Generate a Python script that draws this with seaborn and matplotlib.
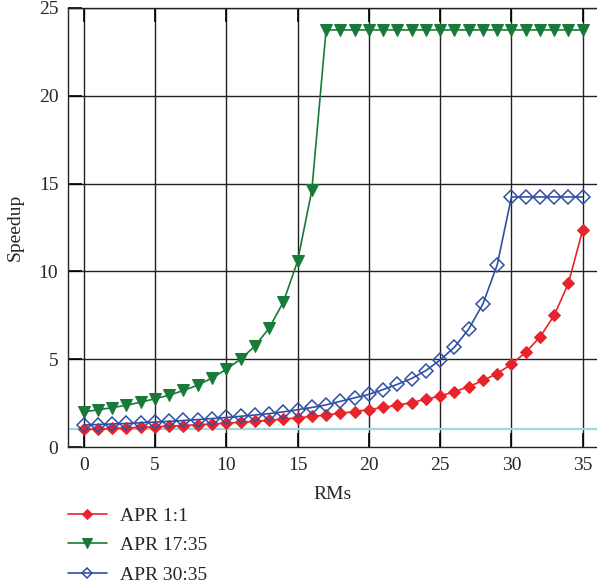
import numpy as np
import pandas as pd
import seaborn as sns
import matplotlib
matplotlib.use("Agg")
import matplotlib.pyplot as plt

rms = list(range(36))

apr_1_1 = [1.00, 1.03, 1.06, 1.09, 1.12, 1.15, 1.19, 1.22, 1.27, 1.31,
           1.36, 1.41, 1.46, 1.52, 1.59, 1.66, 1.74, 1.82, 1.92, 2.02,
           2.13, 2.25, 2.38, 2.53, 2.72, 2.90, 3.15, 3.43, 3.79, 4.18,
           4.72, 5.39, 6.26, 7.50, 9.34, 12.37]

apr_17_35 = [2.00, 2.12, 2.24, 2.38, 2.55, 2.75, 2.95, 3.22, 3.52, 3.93,
             4.42, 5.00, 5.74, 6.76, 8.25, 10.58, 14.62, 23.75, 23.75, 23.75,
             23.75, 23.75, 23.75, 23.75, 23.75, 23.75, 23.75, 23.75, 23.75, 23.75,
             23.75, 23.75, 23.75, 23.75, 23.75, 23.75]

apr_30_35 = [1.25, 1.28, 1.31, 1.34, 1.38, 1.42, 1.46, 1.51, 1.56, 1.62,
             1.68, 1.75, 1.82, 1.90, 2.00, 2.12, 2.25, 2.40, 2.60, 2.80,
             3.00, 3.27, 3.57, 3.90, 4.35, 4.96, 5.68, 6.71, 8.15, 10.37,
             14.24, 14.24, 14.24, 14.24, 14.24, 14.24]

series_names = ["APR 1:1", "APR 17:35", "APR 30:35"]
baseline = 1.0
x_ticks = [0, 5, 10, 15, 20, 25, 30, 35]
y_ticks = [0, 5, 10, 15, 20, 25]

df = pd.DataFrame({
    "RMs": rms * 3,
    "Speedup": apr_1_1 + apr_17_35 + apr_30_35,
    "series": [series_names[0]] * 36 + [series_names[1]] * 36 + [series_names[2]] * 36,
})

sns.set_style("white")
plt.rcParams["font.family"] = ["Liberation Serif", "DejaVu Serif"]
plt.rcParams["font.size"] = 14

fig = plt.figure(figsize=(5.97, 5.86), dpi=100)
ax = fig.add_axes([68 / 597, 1 - 447 / 586, 1 - 68 / 597, (447 - 8) / 586])

colors = {"APR 1:1": "#E8232A", "APR 17:35": "#187A38", "APR 30:35": "#2F4FA6"}

# grid
for xv in x_ticks:
    ax.axvline(xv, color="#222222", lw=1.0, zorder=0)
for yv in y_ticks[1:]:
    ax.axhline(yv, color="#222222", lw=1.0, zorder=0)
ax.axhline(baseline, color="#9ED9E2", lw=1.6, zorder=1)

sub = df[df.series == "APR 1:1"]
sns.lineplot(data=sub, x="RMs", y="Speedup", ax=ax, color=colors["APR 1:1"],
             marker="D", markersize=6.5, markeredgecolor=colors["APR 1:1"],
             lw=1.2, label="APR 1:1", zorder=3)
sub = df[df.series == "APR 17:35"]
sns.lineplot(data=sub, x="RMs", y="Speedup", ax=ax, color=colors["APR 17:35"],
             marker="v", markersize=8.5, markeredgecolor=colors["APR 17:35"],
             lw=1.2, label="APR 17:35", zorder=3)
sub = df[df.series == "APR 30:35"]
sns.lineplot(data=sub, x="RMs", y="Speedup", ax=ax, color=colors["APR 30:35"],
             marker="D", markersize=7, markerfacecolor="none",
             markeredgecolor=colors["APR 30:35"], markeredgewidth=1.1,
             lw=1.2, label="APR 30:35", zorder=4)

ax.set_xlim(-1.1, 36.0)
ax.set_ylim(0, 25)
ax.set_xticks(x_ticks)
ax.set_yticks(y_ticks)
ax.tick_params(direction="in", length=10, width=1.2, color="black",
               top=True, bottom=True, left=True, right=False,
               labelsize=14, pad=7)
for s in ["left", "top", "bottom"]:
    ax.spines[s].set_color("#222222")
    ax.spines[s].set_linewidth(1.0)
ax.spines["right"].set_visible(False)

ax.set_xlabel("RMs", fontsize=14, labelpad=9)
ax.set_ylabel("Speedup", fontsize=14, labelpad=11)

ax.legend(loc="upper left", bbox_to_anchor=(68 / 597, 1 - 507 / 586),
          bbox_transform=fig.transFigure, frameon=False, fontsize=14,
          handlelength=2.0, handletextpad=0.65, labelspacing=0.62, borderpad=0,
          borderaxespad=0, markerscale=0.8)

fig.savefig("out.png", dpi=100)
